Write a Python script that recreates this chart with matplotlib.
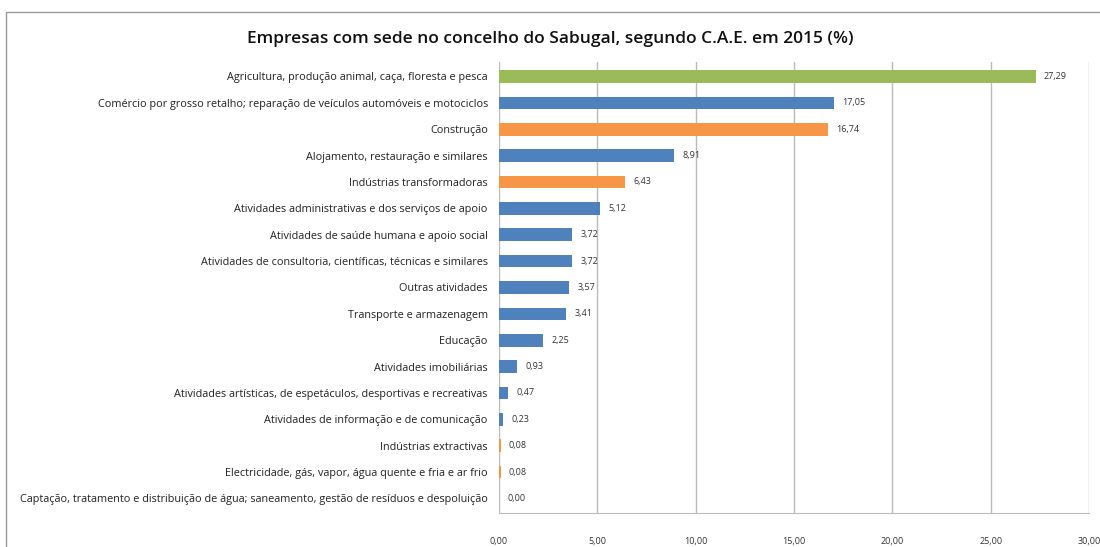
import numpy as np
import matplotlib.pyplot as plt
from matplotlib.patches import Rectangle

# Data (top to bottom as in the chart)
categories = [
    'Agricultura, produção animal, caça, floresta e pesca',
    'Comércio por grosso retalho; reparação de veículos automóveis e motociclos',
    'Construção',
    'Alojamento, restauração e similares',
    'Indústrias transformadoras',
    'Atividades administrativas e dos serviços de apoio',
    'Atividades de saúde humana e apoio social',
    'Atividades de consultoria, científicas, técnicas e similares',
    'Outras atividades',
    'Transporte e armazenagem',
    'Educação',
    'Atividades imobiliárias',
    'Atividades artísticas, de espetáculos, desportivas e recreativas',
    'Atividades de informação e de comunicação',
    'Indústrias extractivas',
    'Electricidade, gás, vapor, água quente e fria e ar frio',
    'Captação, tratamento e distribuição de água; saneamento, gestão de resíduos e despoluição',
]
values = [27.29, 17.05, 16.74, 8.91, 6.43, 5.12, 3.72, 3.72, 3.57, 3.41,
          2.25, 0.93, 0.47, 0.23, 0.08, 0.08, 0.00]
groups = ['g', 'b', 'o', 'b', 'o', 'b', 'b', 'b', 'b', 'b',
          'b', 'b', 'b', 'b', 'o', 'o', 'b']
palette = {'g': '#9BBB59', 'b': '#4F81BD', 'o': '#F79646'}
xticks = [0, 5, 10, 15, 20, 25, 30]

plt.rcParams['font.family'] = ['Open Sans', 'DejaVu Sans']

fig = plt.figure(figsize=(11, 5.47), dpi=100)
ax = fig.add_axes([0.4536, 0.0622, 0.5364, 0.8245])

y = np.arange(len(categories))
colors = [palette[g] for g in groups]
ax.barh(y, values, height=0.48, color=colors, zorder=3)

for yi, v in zip(y, values):
    ax.annotate(('%.2f' % v).replace('.', ','), (v, yi), xytext=(6, 0),
                textcoords='offset points', va='center', ha='left',
                fontsize=6.5, color='#333333')

ax.set_yticks(y)
ax.set_yticklabels(categories, fontsize=7.8, color='#222222')
ax.set_ylim(len(categories) - 0.45, -0.55)
ax.set_xlim(0, 30)
ax.set_xticks(xticks)
ax.set_xticklabels([('%.2f' % t).replace('.', ',') for t in xticks], fontsize=6.5, color='#333333')
ax.tick_params(axis='x', length=0, pad=17)
ax.tick_params(axis='y', length=0, pad=8)
ax.grid(axis='x', color='#BBBBBB', linewidth=1, zorder=0)
for s in ['top', 'right', 'left']:
    ax.spines[s].set_visible(False)
ax.spines['bottom'].set_color('#BBBBBB')

fig.text(0.5, 0.928, 'Empresas com sede no concelho do Sabugal, segundo C.A.E. em 2015 (%)',
         ha='center', va='center', fontsize=12.5, fontweight='semibold', color='#111111')

fig.patches.append(Rectangle((0.005, -0.05), 1.2, 1.028, transform=fig.transFigure,
                             fill=False, edgecolor='#999999', linewidth=1))

plt.savefig('out.png', dpi=100)
